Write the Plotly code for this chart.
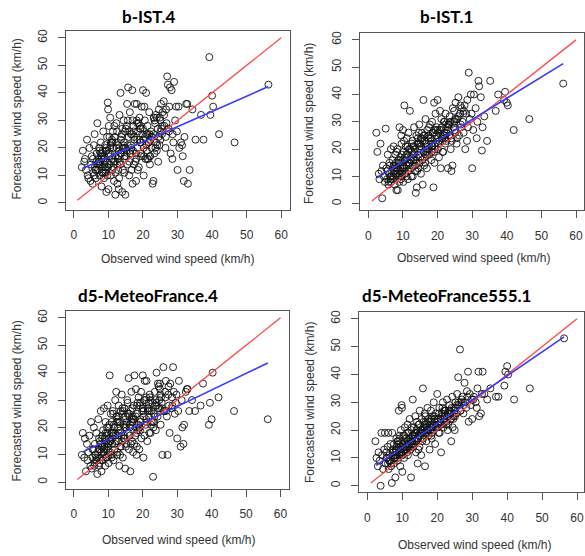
import plotly.graph_objects as go

# Observed wind speed (km/h) - shared by all four panels
observed = [
    2.3, 2.6, 3.0, 3.2, 3.5, 3.8, 4.0, 4.2, 4.5, 4.8,
    5.0, 5.2, 5.4, 5.6, 5.8, 6.0, 6.1, 6.3, 6.5, 6.6,
    6.8, 7.0, 7.1, 7.3, 7.5, 7.6, 7.8, 8.0, 8.1, 8.3,
    8.4, 8.5, 8.7, 8.8, 9.0, 9.1, 9.2, 9.4, 9.5, 9.6,
    9.8, 9.9, 10.0, 10.1, 10.2, 10.4, 10.5, 10.7, 10.8, 11.0,
    11.1, 11.3, 11.5, 11.6, 11.8, 12.0, 12.1, 12.3, 12.5, 12.6,
    12.8, 13.0, 13.2, 13.3, 13.5, 13.7, 13.9, 14.0, 14.2, 14.4,
    14.5, 14.7, 14.9, 15.0, 15.2, 15.4, 15.5, 15.7, 15.9, 16.0,
    16.2, 16.4, 16.5, 16.7, 16.9, 17.0, 17.2, 17.4, 17.6, 17.8,
    18.0, 18.2, 18.4, 18.6, 18.8, 19.0, 19.2, 19.4, 19.6, 19.8,
    20.0, 20.2, 20.4, 20.6, 20.9, 21.1, 21.3, 21.6, 21.8, 22.0,
    22.3, 22.5, 22.8, 23.0, 23.3, 23.5, 23.8, 24.0, 24.3, 24.5,
    24.8, 25.0, 25.2, 25.5, 25.7, 26.0, 26.2, 26.5, 26.7, 27.0,
    27.2, 27.5, 27.8, 28.0, 28.3, 28.5, 28.8, 29.0, 29.3, 29.6,
    30.0, 30.5, 31.0, 31.5, 31.8, 32.0, 32.5, 33.0, 33.5, 34.3,
    35.2, 36.8, 37.5, 39.2, 39.5, 40.0, 40.3, 42.0, 46.5, 56.3,
    7.2, 8.2, 9.3, 10.3, 11.4, 12.2, 13.1, 14.1, 15.1, 16.1,
    7.9, 8.9, 9.7, 10.6, 11.7, 12.7, 13.6, 14.6, 15.6, 16.6,
    17.1, 18.1, 19.1, 20.1, 21.0, 22.1, 23.1, 24.1, 25.1, 26.1,
    17.5, 18.5, 19.5, 20.5, 21.5, 22.6, 23.6, 24.6, 25.6, 26.6,
    6.2, 7.4, 8.6, 9.9, 11.2, 12.4, 13.4, 14.8, 16.3, 18.3,
    19.3, 20.7, 21.9, 23.2, 24.4, 27.4, 28.6, 30.3, 31.3, 32.8,
    5.5, 6.4, 7.3, 8.3, 9.2, 10.1, 11.0, 11.9, 12.9, 13.8,
    14.7, 15.6, 16.5, 17.4, 18.3, 19.2, 20.2, 21.2, 22.2, 23.4,
    6.7, 7.7, 8.7, 9.6, 10.5, 11.5, 12.5, 13.5, 14.3, 15.3,
    16.2, 17.3, 18.2, 19.3, 20.3, 21.4, 22.4, 23.7, 25.3, 26.8,
    8.0, 9.0, 10.0, 11.0, 12.0, 13.0, 14.0, 15.0, 16.0, 17.0,
    18.0, 19.0, 20.0, 21.0, 22.0, 23.0, 24.0, 25.0, 27.6, 29.8,
    5.9, 7.6, 9.4, 11.3, 12.8, 14.5, 16.8, 18.7, 21.7, 24.9,
]

# Forecasted wind speed (km/h) per model
forecast_bist4 = [
    13, 19, 15, 16, 12, 23, 10, 9, 20, 8,
    14, 17, 7, 11, 21, 25, 13, 9, 15, 18,
    29, 12, 16, 20, 10, 14, 22, 6, 18, 11,
    13, 26, 9, 17, 15, 21, 12, 4, 19, 24,
    36.5, 34, 5, 28, 14, 18, 31, 10, 22, 16,
    12, 26, 20, 8, 24, 3, 17, 29, 14, 7,
    21, 5, 32, 15, 40, 18, 25, 4, 12, 30,
    22, 16, 3, 27, 19, 36, 14, 42, 24, 10,
    33, 18, 21, 12, 41, 7, 28, 24, 36, 15,
    8, 36, 20, 26, 13, 31, 22, 17, 35, 25,
    41, 10, 35, 24, 40, 19, 28, 22, 33, 14,
    26, 20, 7, 8, 18, 29, 22, 19, 27, 24,
    21, 30, 36, 25, 33, 37, 28, 20, 34, 46,
    43, 26, 42, 18, 41, 16, 22, 44, 30, 35,
    12, 20, 22, 17, 8, 24, 36, 7, 12, 34,
    23, 32, 23, 53, 32, 39, 35, 25, 22, 43,
    15, 11, 19, 24, 13, 22, 9, 20, 17, 26,
    17, 14, 10, 21, 28, 16, 23, 11, 30, 20,
    19, 16, 28, 23, 25, 17, 31, 21, 26, 32,
    23, 12, 18, 30, 16, 24, 20, 34, 28, 24,
    12, 19, 16, 13, 22, 20, 14, 26, 18, 29,
    27, 16, 25, 31, 15, 27, 25, 35, 21, 36,
    16, 12, 14, 19, 11, 17, 22, 15, 19, 24,
    17, 21, 25, 14, 23, 27, 20, 16, 23, 30,
    14, 18, 11, 13, 20, 15, 26, 18, 21, 28,
    19, 26, 30, 22, 17, 25, 24, 32, 27, 29,
    16, 13, 18, 23, 11, 17, 27, 20, 15, 30,
    18, 23, 27, 21, 17, 25, 31, 23, 35, 26,
    10, 15, 20, 16, 12, 20, 25, 29, 22, 31,
]

forecast_bist1 = [
    26, 19, 11, 9, 22, 12, 2, 14, 10, 8,
    27.5, 13, 9, 18, 7, 11, 15, 10, 20, 8,
    12, 16, 9, 21, 14, 7, 18, 11, 5, 13,
    20, 5, 10, 15, 28, 12, 17, 9, 25, 22,
    11, 14, 27, 8, 19, 36, 13, 16, 21, 10,
    24, 18, 12, 26, 15, 34, 20, 13, 17, 22,
    10, 16, 28, 19, 14, 4, 25, 6, 22, 18,
    13, 29, 21, 17, 11, 24, 26, 7, 38, 19,
    25, 15, 31, 22, 13, 27, 20, 24, 18, 29,
    23, 16, 30, 26, 6, 37, 21, 33, 25, 28,
    38, 22, 17, 27, 13, 31, 24, 19, 30, 26,
    33, 23, 28, 13, 25, 32, 20, 12, 14, 30,
    34, 27, 37, 22, 31, 39, 25, 33, 29, 35,
    30, 26, 36, 20, 33, 23, 28, 48, 31, 40,
    13, 40, 35, 30, 45, 43, 39, 28, 32, 23,
    45, 34, 40, 38, 41, 37, 36, 27, 31, 44,
    10, 19, 13, 23, 9, 16, 21, 12, 24, 14,
    15, 8, 18, 11, 20, 23, 12, 26, 16, 21,
    18, 24, 15, 20, 27, 24, 29, 23, 26, 32,
    28, 21, 27, 23, 19, 26, 30, 28, 24, 36,
    14, 11, 16, 13, 17, 10, 20, 15, 23, 19,
    22, 34, 25, 29, 35, 33, 38, 27, 24, 19.5,
    12, 9, 14, 11, 16, 13, 18, 15, 21, 17,
    20, 23, 18, 25, 21, 27, 24, 28, 22, 29,
    10, 12, 15, 10, 17, 14, 19, 16, 24, 21,
    17, 25, 22, 20, 26, 23, 29, 25, 31, 28,
    13, 11, 16, 14, 20, 18, 15, 22, 25, 20,
    24, 19, 27, 25, 30, 27, 24, 31, 34, 33,
    8, 13, 12, 21, 14, 22, 19, 26, 25, 30,
]

forecast_mf4 = [
    10, 18, 9, 16, 4, 14, 8, 11, 17, 6,
    22, 5, 9, 12, 20, 7, 14, 10, 18, 8,
    3, 11, 23, 6, 15, 9, 26, 4, 13, 17,
    8, 19, 27, 10, 14, 6, 22, 12, 17, 9,
    28, 13, 20, 7, 16, 39, 11, 25, 18, 9,
    14, 26, 8, 21, 12, 30, 17, 33, 10, 23,
    15, 28, 6, 22, 19, 13, 32, 25, 9, 21,
    16, 27, 5, 24, 14, 22, 30, 18, 38, 12,
    20, 4, 26, 33, 15, 22, 11, 28, 39, 17,
    34, 10, 25, 19, 31, 12, 28, 22, 16, 26,
    39, 9, 30, 37, 21, 37, 15, 27, 24, 32,
    18, 26, 29, 2, 22, 33, 19, 40, 24, 27,
    30, 36, 21, 29, 10, 42, 26, 33, 37, 24,
    10, 35, 18, 36, 27, 31, 42, 33, 25, 29,
    16, 37, 13, 20, 14, 21, 33, 34, 26, 30,
    26, 28, 36, 21, 29, 23, 40, 31, 26, 23,
    12, 16, 9, 21, 25, 15, 18, 27, 13, 24,
    8, 13, 18, 15, 20, 11, 26, 17, 29, 22,
    24, 18, 20, 27, 23, 31, 20, 28, 32, 26,
    14, 29, 33, 17, 26, 22, 30, 35, 27, 31,
    10, 7, 11, 14, 18, 24, 10, 16, 21, 13,
    23, 30, 18, 25, 36, 32, 28, 26, 30, 34,
    12, 8, 16, 13, 18, 10, 22, 14, 24, 17,
    20, 25, 14, 23, 28, 19, 26, 22, 30, 24,
    9, 14, 12, 20, 15, 18, 22, 13, 26, 21,
    17, 23, 20, 29, 24, 27, 21, 28, 31, 26,
    11, 16, 14, 10, 18, 22, 15, 20, 25, 27,
    24, 20, 27, 31, 26, 22, 29, 34, 28, 32,
    6, 12, 15, 17, 20, 16, 23, 21, 29, 27,
]

forecast_mf555 = [
    16, 10, 7, 12, 9, 0, 19, 11, 6, 13,
    19, 8, 12, 10, 14, 19, 6, 11, 9, 15,
    7, 1, 19, 12, 8, 15, 10, 3, 13, 17,
    11, 14, 9, 16, 27, 12, 18, 7, 13, 20,
    29, 28, 5, 15, 12, 18, 10, 21, 16, 13,
    17, 14, 22, 11, 19, 15, 24, 13, 3, 20,
    18, 31, 14, 21, 16, 25, 12, 19, 23, 8,
    17, 22, 14, 27, 20, 11, 24, 16, 35, 21,
    19, 26, 7, 23, 16, 21, 28, 18, 24, 13,
    22, 27, 17, 25, 20, 30, 23, 15, 26, 21,
    33, 24, 19, 28, 22, 12, 26, 30, 21, 25,
    27, 23, 31, 20, 26, 29, 24, 16, 32, 25,
    28, 20, 30, 26, 33, 39, 29, 49, 27, 31,
    32, 26, 37, 30, 28, 34, 41, 23, 33, 29,
    24, 32, 30, 35, 41, 25, 26, 41, 33, 31,
    35, 32, 32, 36, 41, 43, 40, 31, 35, 53,
    13, 11, 17, 14, 19, 17, 15, 20, 18, 23,
    10, 15, 12, 18, 14, 21, 17, 13, 19, 25,
    20, 23, 25, 21, 24, 27, 22, 28, 25, 30,
    23, 19, 21, 26, 28, 22, 27, 24, 29, 27,
    9, 12, 16, 11, 13, 16, 18, 22, 20, 18,
    24, 19, 27, 25, 21, 30, 32, 31, 28, 33,
    10, 9, 12, 13, 11, 15, 14, 17, 16, 19,
    18, 20, 22, 19, 21, 24, 23, 22, 25, 27,
    8, 11, 10, 14, 13, 16, 15, 18, 17, 19,
    21, 20, 24, 23, 22, 25, 27, 26, 28, 30,
    12, 13, 11, 15, 14, 18, 16, 19, 17, 22,
    20, 22, 21, 24, 23, 26, 24, 27, 29, 31,
    8, 10, 14, 12, 15, 17, 19, 21, 24, 26,
]

panel_titles = ["b-IST.4", "b-IST.1", "d5-MeteoFrance.4", "d5-MeteoFrance555.1"]
forecasts = [forecast_bist4, forecast_bist1, forecast_mf4, forecast_mf555]

# Regression (blue) line end points
fit_x = [2.5, 56.3]
fit_bist4 = [12.5, 42.3]
fit_bist1 = [9.5, 51.3]
fit_mf4 = [11.0, 43.5]
fit_mf555 = [7.3, 53.5]
fits = [fit_bist4, fit_bist1, fit_mf4, fit_mf555]

# Identity (red) line
identity_line = [1, 60]

tick_values = [0, 10, 20, 30, 40, 50, 60]
x_label = "Observed wind speed (km/h)"
y_label = "Forecasted wind speed (km/h)"

for f in forecasts:
    assert len(f) == len(observed), (len(f), len(observed))

W, H = 585, 556
# pixel positions of tick 0 and tick 60 for x and y in each panel
tick_px = [
    (74, 281.7, 201.7, 36),
    (369, 577, 202.5, 38),
    (74, 281, 482, 317),
    (368, 578, 485.5, 318),
]
title_pos = [(148.5, 15), (447.5, 15), (148.5, 295), (447, 295)]
xlab_pos = [(178, 258), (474, 257), (179, 540), (475, 545)]
ylab_pos = [(17, 117), (309, 122), (17, 400), (310, 402)]

TEXT = "#333333"
FONT = "Liberation Sans, Arial, sans-serif"

fig = go.Figure()
annotations = []
layout_axes = {}
for i in range(4):
    sfx = "" if i == 0 else str(i + 1)
    xa, ya = "x" + sfx, "y" + sfx
    f = forecasts[i]
    fig.add_trace(go.Scatter(
        x=observed, y=f, mode="markers", xaxis=xa, yaxis=ya,
        marker=dict(symbol="circle-open", size=7, color="rgba(20,20,20,0.9)",
                    line=dict(width=1)),
        hoverinfo="skip"))
    fig.add_trace(go.Scatter(
        x=identity_line, y=identity_line, mode="lines", xaxis=xa, yaxis=ya,
        line=dict(color="#ff4848", width=1.3), hoverinfo="skip"))
    fig.add_trace(go.Scatter(
        x=fit_x, y=fits[i], mode="lines", xaxis=xa, yaxis=ya,
        line=dict(color="#3a3aff", width=1.6), hoverinfo="skip"))

    x0, x60, y0, y60 = tick_px[i]
    xppu = (x60 - x0) / 60.0
    yppu = (y0 - y60) / 60.0
    L = x0 - 2.4 * xppu
    R = min(W, x60 + 2.4 * xppu)
    B = y0 + 2.4 * yppu
    T = y60 - 2.4 * yppu
    xr = [(L - x0) / xppu, (R - x0) / xppu]
    yr = [(y0 - B) / yppu, (y0 - T) / yppu]
    common = dict(showline=True, mirror=True, linecolor="#555555", linewidth=1,
                  ticks="outside", ticklen=7, tickwidth=1, tickcolor="#555555",
                  tickvals=tick_values, showgrid=False, zeroline=False,
                  ticklabeloverflow="allow",
                  tickfont=dict(family=FONT, size=12, color=TEXT))
    layout_axes["xaxis" + sfx] = dict(common, range=xr, domain=[L / W, R / W],
                                      anchor=ya, ticklabelstandoff=7)
    layout_axes["yaxis" + sfx] = dict(common, range=yr, domain=[1 - B / H, 1 - T / H],
                                      anchor=xa, tickangle=-90, ticklabelstandoff=6)

    tx, ty = title_pos[i]
    annotations.append(dict(text="<b>" + panel_titles[i] + "</b>", x=tx / W, y=1 - ty / H,
                            xref="paper", yref="paper", showarrow=False,
                            xanchor="center", yanchor="middle",
                            font=dict(family="Lato, Open Sans, sans-serif", size=17, color="black")))
    lx, ly = xlab_pos[i]
    annotations.append(dict(text=x_label, x=lx / W, y=1 - ly / H, xref="paper", yref="paper",
                            showarrow=False, xanchor="center", yanchor="middle",
                            font=dict(family=FONT, size=12, color=TEXT)))
    vx, vy = ylab_pos[i]
    annotations.append(dict(text=y_label, x=vx / W, y=1 - vy / H, xref="paper", yref="paper",
                            showarrow=False, xanchor="center", yanchor="middle", textangle=-90,
                            font=dict(family=FONT, size=12, color=TEXT)))

fig.update_layout(
    width=W, height=H, margin=dict(l=0, r=0, t=0, b=0),
    paper_bgcolor="white", plot_bgcolor="white", showlegend=False,
    annotations=annotations, **layout_axes)

fig.write_html("out.html", config={"displayModeBar": False},
               post_script="document.body.style.margin='0';document.body.style.overflow='hidden';")
